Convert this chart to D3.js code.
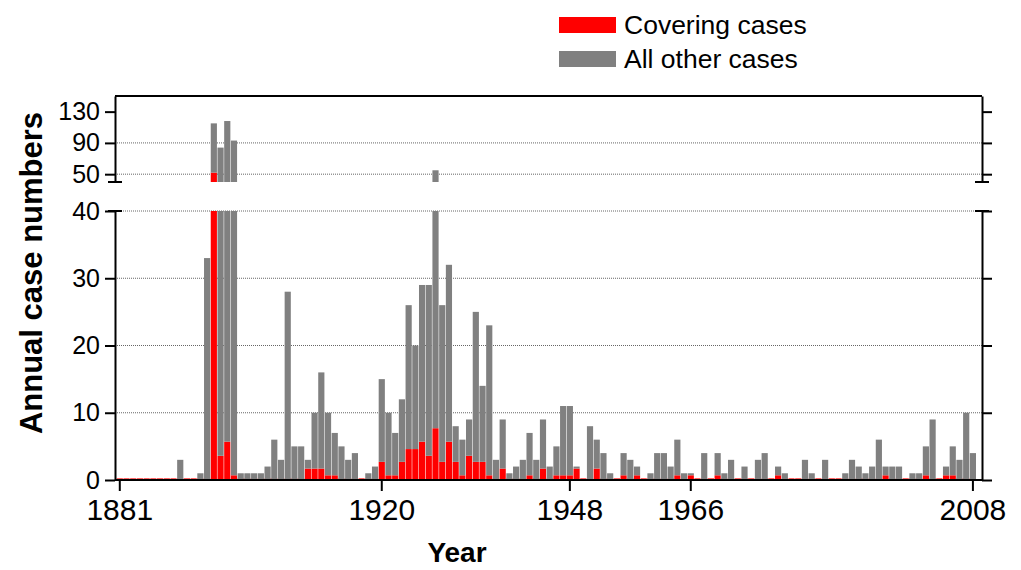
<!DOCTYPE html>
<html>
<head>
<meta charset="utf-8">
<script src="https://cdn.jsdelivr.net/npm/d3@7"></script>
<style>
  body { margin: 0; background: #fff; }
  text { font-family: "Liberation Sans", Arial, sans-serif; }
</style>
</head>
<body>
<div id="chart"></div>
<script>
// Years (one bar per year)
var years = d3.range(1881, 2009);

// Covering cases per year
var covering = [
  0, 0, 0, 0, 0, 0, 0, 0, 0, 0, 0, 0, 0, 0, 52, 3.6, 5.7, 0.7, 0, 0,
  0, 0, 0, 0, 0, 0, 0, 0, 1.7, 1.7, 1.7, 0.7, 0.7, 0, 0, 0, 0, 0, 0, 2.7,
  0.7, 0.7, 2.7, 4.6, 4.6, 5.7, 3.6, 7.7, 2.7, 5.7, 2.7, 0.7, 3.6, 2.7, 2.7, 0.7, 0, 1.7, 0, 0,
  0, 0.7, 0, 1.7, 0, 0.7, 0.7, 0.7, 1.7, 0, 0, 1.7, 0, 0, 0, 0.7, 0, 0.7, 0, 0,
  0, 0, 0, 0.7, 0, 0.7, 0, 0, 0, 0.7, 0, 0, 0, 0, 0, 0, 0, 0, 0.7, 0,
  0, 0, 0, 0, 0, 0, 0, 0, 0, 0, 0, 0, 0, 0, 0.7, 0, 0, 0, 0, 0,
  0.7, 0, 0, 0.7, 0.7, 0, 0, 0
];

// All other cases per year
var other = [
  0, 0, 0, 0, 0, 0, 0, 0, 0, 3, 0, 0, 1, 33, 63, 80.4, 112.3, 92.3, 1, 1,
  1, 1, 2, 6, 3, 28, 5, 5, 1.3, 8.3, 14.3, 9.3, 6.3, 5, 3, 4, 0, 1, 2, 12.3,
  9.3, 6.3, 9.3, 21.4, 15.4, 23.3, 25.4, 47.3, 23.3, 26.3, 5.3, 5.3, 5.4, 22.3, 11.3, 22.3, 3, 7.3, 1, 2,
  3, 6.3, 3, 7.3, 2, 4.3, 10.3, 10.3, 0.3, 0, 8, 4.3, 4, 1, 0, 3.3, 3, 1.3, 0, 1,
  4, 4, 2, 5.3, 1, 0.3, 0, 4, 0, 3.3, 1, 3, 0, 2, 0, 3, 4, 0, 1.3, 1,
  0, 0, 3, 1, 0, 3, 0, 0, 1, 3, 2, 1, 2, 6, 1.3, 2, 2, 0, 1, 1,
  4.3, 9, 0, 1.3, 4.3, 3, 10, 4
];

var xTicks = [1881, 1920, 1948, 1966, 2008];
var lowTicks = [0, 10, 20, 30, 40];
var upTicks = [50, 90, 130];
var upGrid = [50, 90];
var lowGrid = [10, 20, 30, 40];

var keys = ["covering", "other"];
var labels = { covering: "Covering cases", other: "All other cases" };
var colors = { covering: "#ff0000", other: "#808080" };

var rows = years.map(function(y, i) {
  return { year: y, covering: covering[i], other: other[i] };
});

var width = 1021;
var height = 570;

// frame edges
var left = 115, right = 982;

var svg = d3.select("#chart")
  .append("svg")
  .attr("width", width)
  .attr("height", height);

// scales
var x = d3.scaleBand()
  .domain(years)
  .range([116.7, 976])
  .paddingInner(0.08);

var yLow = d3.scaleLinear().domain([0, 40]).range([480, 211]).clamp(true);
var yUp = d3.scaleLinear().domain([40, 150]).range([182, 96]).clamp(true);

var series = d3.stack().keys(keys)(rows);

// gridlines
function grid(scale, vals) {
  svg.append("g")
    .selectAll("line")
    .data(vals)
    .join("line")
    .attr("x1", left)
    .attr("x2", right)
    .attr("y1", function(d) { return scale(d); })
    .attr("y2", function(d) { return scale(d); })
    .attr("stroke", "#666")
    .attr("stroke-width", 1)
    .attr("stroke-dasharray", "1,1");
}
grid(yLow, lowGrid);
grid(yUp, upGrid);

// bars, lower and upper panel
function bars(scale, minH) {
  svg.append("g")
    .selectAll("g")
    .data(series)
    .join("g")
    .attr("fill", function(s) { return colors[s.key]; })
    .selectAll("rect")
    .data(function(s) { return s.map(function(d) { d.key = s.key; return d; }); })
    .join("rect")
    .attr("x", function(d) { return x(d.data.year); })
    .attr("width", x.bandwidth())
    .attr("y", function(d) {
      var h = scale(d[0]) - scale(d[1]);
      if (minH && d.key == "covering" && h < minH) return scale(d[0]) - minH;
      return scale(d[1]);
    })
    .attr("height", function(d) {
      var h = scale(d[0]) - scale(d[1]);
      if (minH && d.key == "covering" && h < minH) return minH;
      return h;
    });
}
bars(yLow, 1.6);
bars(yUp, 0);

// axes
function styleAxis(g) {
  g.selectAll("path, line").attr("stroke", "#000").attr("stroke-width", 2);
  g.selectAll("text")
    .attr("fill", "#000")
    .style("font-family", "'Liberation Sans', Arial, sans-serif");
}

svg.append("g")
  .attr("transform", "translate(" + left + ",0)")
  .call(d3.axisLeft(yLow).tickValues(lowTicks).tickSize(10).tickSizeOuter(0).tickPadding(5))
  .call(styleAxis)
  .selectAll("text").style("font-size", "25px");

svg.append("g")
  .attr("transform", "translate(" + left + ",0)")
  .call(d3.axisLeft(yUp).tickValues(upTicks).tickSize(10).tickSizeOuter(0).tickPadding(5))
  .call(styleAxis)
  .selectAll("text").style("font-size", "25px");

svg.append("g")
  .attr("transform", "translate(" + right + ",0)")
  .call(d3.axisRight(yLow).tickValues(lowTicks).tickSize(10).tickSizeOuter(0).tickFormat(""))
  .call(styleAxis);

svg.append("g")
  .attr("transform", "translate(" + right + ",0)")
  .call(d3.axisRight(yUp).tickValues(upTicks).tickSize(10).tickSizeOuter(0).tickFormat(""))
  .call(styleAxis);

var xAxis = svg.append("g")
  .attr("transform", "translate(0,480)")
  .call(d3.axisBottom(x).tickValues(xTicks).tickSize(11).tickSizeOuter(0).tickPadding(8))
  .call(styleAxis);
xAxis.select(".domain").remove();
xAxis.selectAll("text").style("font-size", "30px");

// bottom line and top frame
svg.append("line").attr("x1", left).attr("x2", right).attr("y1", 480).attr("y2", 480)
  .attr("stroke", "#000").attr("stroke-width", 2);
svg.append("line").attr("x1", left).attr("x2", right).attr("y1", 96).attr("y2", 96)
  .attr("stroke", "#000").attr("stroke-width", 2);

// break marks
[yUp(40), yLow(40)].forEach(function(yy) {
  [left, right].forEach(function(xx) {
    svg.append("line")
      .attr("x1", xx - 7).attr("x2", xx + 7)
      .attr("y1", yy).attr("y2", yy)
      .attr("stroke", "#000").attr("stroke-width", 2);
  });
});

// axis titles
svg.append("text")
  .attr("x", 457)
  .attr("y", 562)
  .attr("text-anchor", "middle")
  .style("font-size", "28px")
  .style("font-weight", "bold")
  .text("Year");

svg.append("text")
  .attr("transform", "translate(42,273) rotate(-90)")
  .attr("text-anchor", "middle")
  .style("font-size", "31px")
  .style("font-weight", "bold")
  .text("Annual case numbers");

// legend
var legend = svg.append("g")
  .selectAll("g")
  .data(keys)
  .join("g")
  .attr("transform", function(d, i) { return "translate(559," + (17 + i * 34) + ")"; });

legend.append("rect")
  .attr("width", 57)
  .attr("height", 16)
  .attr("fill", function(d) { return colors[d]; });

legend.append("text")
  .attr("x", 65)
  .attr("y", 17)
  .style("font-size", "26.5px")
  .text(function(d) { return labels[d]; });
</script>
</body>
</html>
